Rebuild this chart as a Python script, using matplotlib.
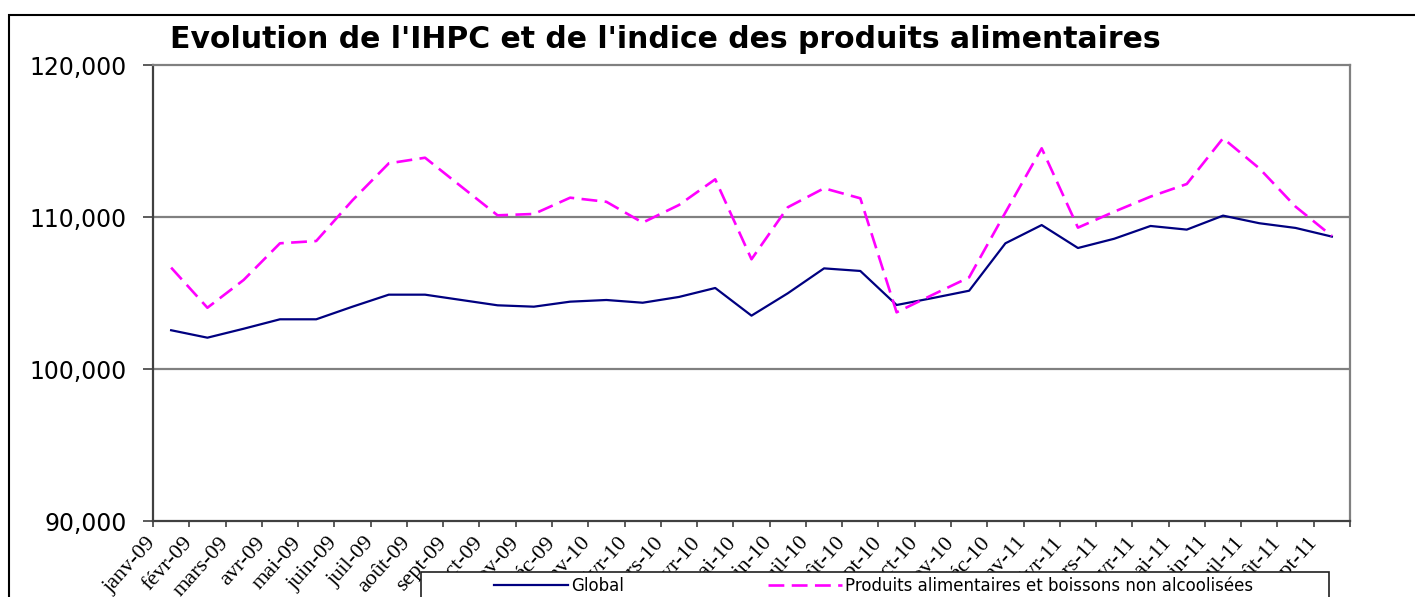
import numpy as np
import matplotlib
matplotlib.use('Agg')
import matplotlib.pyplot as plt
from matplotlib.patches import Rectangle
from matplotlib.transforms import ScaledTranslation

# Monthly labels, janv-09 .. sept-11
months = ['janv-09', 'févr-09', 'mars-09', 'avr-09', 'mai-09', 'juin-09', 'juil-09',
          'août-09', 'sept-09', 'oct-09', 'nov-09', 'déc-09',
          'janv-10', 'févr-10', 'mars-10', 'avr-10', 'mai-10', 'juin-10', 'juil-10',
          'août-10', 'sept-10', 'oct-10', 'nov-10', 'déc-10',
          'janv-11', 'févr-11', 'mars-11', 'avr-11', 'mai-11', 'juin-11', 'juil-11',
          'août-11', 'sept-11']

# IHPC global index
global_idx = [102.55, 102.06, 102.65, 103.27, 103.27, 104.10, 104.89, 104.89, 104.54,
              104.19, 104.10, 104.43, 104.54, 104.36, 104.74, 105.33, 103.51, 104.98,
              106.62, 106.45, 104.21, 104.67, 105.15, 108.27, 109.47, 107.96, 108.57,
              109.41, 109.17, 110.09, 109.59, 109.28, 108.71]

# Food and non-alcoholic beverages index
food_idx = [106.67, 104.03, 105.86, 108.27, 108.42, 111.10, 113.53, 113.90, 112.00,
            110.11, 110.20, 111.27, 111.00, 109.63, 110.79, 112.48, 107.22, 110.64,
            111.89, 111.23, 103.73, 104.89, 106.03, 110.30, 114.52, 109.30, 110.35,
            111.34, 112.17, 115.18, 113.20, 110.68, 108.75]

yticks = [90, 100, 110, 120]

W, H = 1415, 597
fig = plt.figure(figsize=(W / 100, H / 100), dpi=100)

# outer chart frame (runs off the right and bottom edges)
fig.patches.append(Rectangle((9 / W, -0.1), 1.2, 1 - 15 / H + 0.1, transform=fig.transFigure,
                             fill=False, edgecolor='black', linewidth=1.5))

ax = fig.add_axes([153 / W, 1 - 521 / H, (1350 - 153) / W, (521 - 65) / H])

x = np.arange(len(months))
ax.plot(x, global_idx, color='#000080', linewidth=1.6, label='Global')
ax.plot(x, food_idx, color='#FF00FF', linewidth=1.9, dashes=(6, 2.8),
        label='Produits alimentaires et boissons non alcoolisées')

ax.set_xlim(-0.5, len(months) - 0.5)
ax.set_ylim(90, 120)

# gridlines only at the inner majors
for v in yticks[1:-1]:
    ax.axhline(v, color='#808080', linewidth=1.6, zorder=0)

ax.set_yticks(yticks)
ax.set_yticklabels([f'{v:.3f}'.replace('.', ',') for v in yticks],
                   fontsize=17, family='DejaVu Sans')
ax.tick_params(axis='y', length=7, width=1.2, color='#404040', pad=12)

# category labels at centers, ticks on boundaries
ax.set_xticks(x)
ax.set_xticklabels(months, rotation=48, ha='right', va='top', rotation_mode='anchor',
                   fontsize=16, family='Liberation Serif')
ax.tick_params(axis='x', which='major', length=0, pad=9)
ax.set_xticks(np.arange(-0.5, len(months)), minor=True)
ax.tick_params(axis='x', which='minor', length=4, width=1.2, color='#404040')
for lab in ax.get_xticklabels():
    lab.set_transform(lab.get_transform() + ScaledTranslation(-0.25, 0, fig.dpi_scale_trans))

ax.spines['left'].set_color('#404040')
ax.spines['bottom'].set_color('#404040')
ax.spines['top'].set_color('#808080')
ax.spines['right'].set_color('#808080')
for s in ax.spines.values():
    s.set_linewidth(1.6)

fig.text(170 / W, 1 - 48 / H, "Evolution de l'IHPC et de l'indice des produits alimentaires",
         fontsize=21.5, fontweight='bold', family='DejaVu Sans', va='baseline', ha='left')

# legend box, cut by the bottom of the picture
fig.patches.append(Rectangle((421 / W, -0.1), (1329 - 421) / W, 0.1 + 1 - 572 / H,
                             transform=fig.transFigure, facecolor='white',
                             edgecolor='#202020', linewidth=1.2, zorder=5))
leg = fig.legend(loc='center left', bbox_to_anchor=(494 / W, 1 - 586 / H), ncol=2,
                 frameon=False, fontsize=12, handlelength=4.45, handletextpad=0.2,
                 columnspacing=8.6, borderpad=0, borderaxespad=0)
leg.set_zorder(6)

fig.savefig('out.png', dpi=100)
